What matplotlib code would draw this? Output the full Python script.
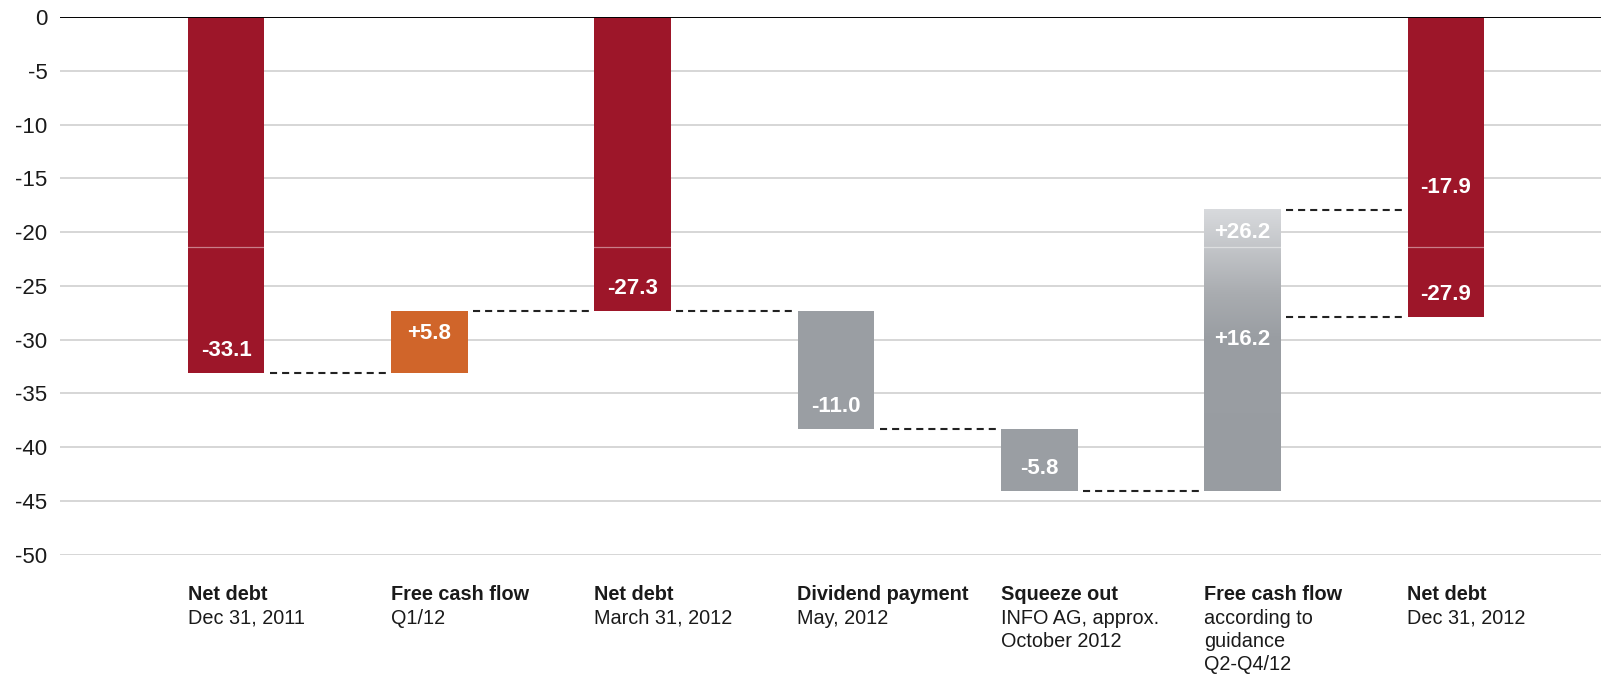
import numpy as np
import matplotlib
matplotlib.use("Agg")
import matplotlib.pyplot as plt
from matplotlib.colors import LinearSegmentedColormap

plt.rcParams['font.family'] = ['Liberation Sans', 'DejaVu Sans']

# categories (bold first line + detail lines)
titles = ["Net debt", "Free cash flow", "Net debt", "Dividend payment",
          "Squeeze out", "Free cash flow", "Net debt"]
details = [["Dec 31, 2011"], ["Q1/12"], ["March 31, 2012"], ["May, 2012"],
           ["INFO AG, approx.", "October 2012"],
           ["according to", "guidance", "Q2-Q4/12"], ["Dec 31, 2012"]]

# waterfall steps: 'total' bars start at zero, 'delta' bars start at running level
kinds = ['total', 'delta', 'total', 'delta', 'delta', 'delta', 'total']
values = [-33.1, 5.8, -27.3, -11.0, -5.8, 16.2, -27.9]
# guidance upper ends
fcf_upper = 26.2
net_debt_upper = -17.9

yticks = [0, -5, -10, -15, -20, -25, -30, -35, -40, -45, -50]

RED = '#9d1629'
ORANGE = '#d0652a'
GRAY = '#9a9ea3'

def bar_color(i, kind, v):
    if kind == 'total':
        return RED
    return ORANGE if v > 0 else GRAY

W, H = 1601, 676
fig = plt.figure(figsize=(W / 100, H / 100), dpi=100)
ax_left, ax_top, ax_bottom = 60, 17.3, 554.6
ax = fig.add_axes([ax_left / W, 1 - ax_bottom / H, 1 - ax_left / W, (ax_bottom - ax_top) / H])

spacing = 203.3
x0_px = 226
ax.set_xlim(-(x0_px - ax_left) / spacing, 6 + (W - 1446) / spacing)
ax.set_ylim(-50, 0)

width = 0.378
gap = 0.025
lbl_off = 2.1
lbl_size = 16

level = 0.0
ends = []
for i, (kind, v) in enumerate(zip(kinds, values)):
    if kind == 'total':
        bottom, end = 0.0, v
    else:
        bottom, end = level, level + v
    level = end
    ends.append(end)

    if i == 5:
        # guidance range bar: gradient up to the upper end
        lo = bottom
        hi = bottom + fcf_upper
        ax.bar(i, hi - lo, width, bottom=lo, color='none', zorder=3)
        cmap = LinearSegmentedColormap.from_list(
            'guid', [(0.0, '#989ca1'), (0.55, '#9a9ea3'), (0.7, '#a9acb0'), (1.0, '#d8dadd')])
        grad = np.linspace(0, 1, 256).reshape(-1, 1)
        ax.imshow(grad, cmap=cmap, origin='lower', aspect='auto',
                  extent=(i - width / 2, i + width / 2, lo, hi), zorder=3)
        ax.text(i, end - lbl_off, f"+{v:.1f}", ha='center', va='center',
                color='white', fontsize=lbl_size, fontweight='bold', zorder=5)
        ax.text(i, hi - lbl_off, f"+{fcf_upper:.1f}", ha='center', va='center',
                color='white', fontsize=lbl_size, fontweight='bold', zorder=5)
        continue

    ax.bar(i, end - bottom, width, bottom=bottom, color=bar_color(i, kind, v), zorder=3)
    if v > 0 and kind == 'delta':
        txt, ty = f"+{v:.1f}", end - lbl_off
    else:
        txt, ty = f"{v:.1f}", end + lbl_off
    ax.text(i, ty, txt, ha='center', va='center', color='white',
            fontsize=lbl_size, fontweight='bold', zorder=5)

# second label on the last net debt bar (upper guidance)
ax.text(6, net_debt_upper + lbl_off, f"{net_debt_upper:.1f}", ha='center', va='center',
        color='white', fontsize=lbl_size, fontweight='bold', zorder=5)

# dashed connectors between bars
conn = [(i, ends[i]) for i in range(6)]
conn.append((5, net_debt_upper))
for i, yv in conn:
    ax.plot([i + width / 2 + gap, i + 1 - width / 2 - gap], [yv, yv],
            color='#222222', lw=1.5, ls=(0, (3.4, 2.4)), zorder=4)

# faint seam across the bars
ax.axhline(-21.4, color='white', lw=0.9, alpha=0.45, zorder=4)

# grid and axes
for yv in yticks[1:]:
    ax.axhline(yv, color='#d6d6d6', lw=1.4, zorder=1)
ax.axhline(0, color='black', lw=1.4, zorder=6)
for s in ax.spines.values():
    s.set_visible(False)
ax.set_yticks(yticks)
ax.set_yticklabels([str(t) for t in yticks], fontsize=16, color='#1a1a1a')
ax.tick_params(axis='y', length=0, pad=9)
ax.set_xticks([])

# category labels below the plot
line1_px = 595
step_px = 23.3
for i, (t, d) in enumerate(zip(titles, details)):
    xf = (x0_px + i * spacing - width / 2 * spacing) / W
    fig.text(xf, 1 - line1_px / H, t, ha='left', va='center', fontsize=14.3,
             fontweight='bold', color='#1a1a1a')
    for k, line in enumerate(d):
        fig.text(xf, 1 - (line1_px + (k + 1) * step_px) / H, line, ha='left', va='center',
                 fontsize=14.3, color='#1a1a1a')

fig.savefig('out.png', dpi=100)
